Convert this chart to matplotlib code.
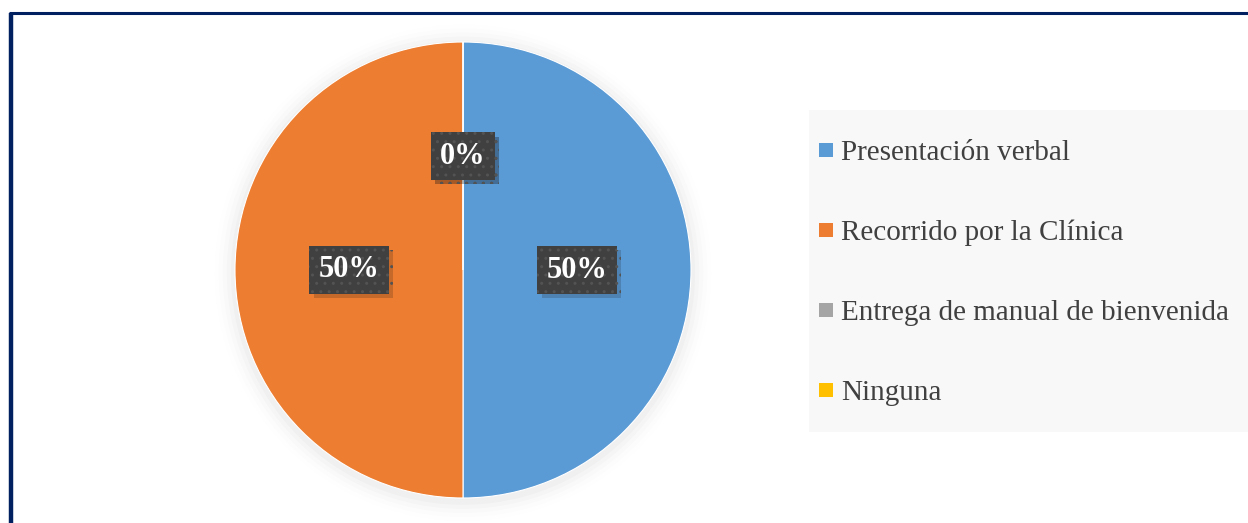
import matplotlib
matplotlib.use("Agg")
import matplotlib.pyplot as plt
from matplotlib.patches import Rectangle, Circle
from matplotlib.lines import Line2D
from matplotlib import patheffects as pe

# Datos
categorias = ["Presentación verbal", "Recorrido por la Clínica",
              "Entrega de manual de bienvenida", "Ninguna"]
valores = [50, 50, 0, 0]
colores = ["#5B9BD5", "#ED7D31", "#A5A5A5", "#FFC000"]

W, H = 1248, 523
fig = plt.figure(figsize=(W / 100, H / 100), dpi=100)
fig.patch.set_facecolor("white")

# marco azul (solo izquierda y arriba)
fig.add_artist(Line2D([11 / W, 11 / W], [0, 1 - 13 / H], color="#002060",
                      lw=3.2, transform=fig.transFigure, solid_capstyle="butt"))
fig.add_artist(Line2D([9 / W, 1], [1 - 13 / H, 1 - 13 / H], color="#002060",
                      lw=2.2, transform=fig.transFigure, solid_capstyle="butt"))

# Gráfico circular
cx, cy, r = 463, 270, 228
ax = fig.add_axes([(cx - r) / W, (H - cy - r) / H, 2 * r / W, 2 * r / H])
ax.axis("off")

# sombra suave alrededor del círculo
for i, a in enumerate([0.02, 0.016, 0.012, 0.008, 0.005]):
    ax.add_patch(Circle((0, -0.012), 1 + 0.018 * (i + 1), color="black",
                        alpha=a, lw=0, zorder=0, clip_on=False))

wedges, textos, autotextos = ax.pie(
    valores, colors=colores, startangle=90, counterclock=False, radius=1,
    autopct="%1.0f%%", pctdistance=0.5,
    wedgeprops=dict(edgecolor="white", linewidth=0.8),
    textprops=dict(color="white", fontsize=22, fontweight="bold",
                   family="Liberation Serif"))
ax.set_xlim(-1, 1)
ax.set_ylim(-1, 1)

for t in autotextos:
    t.set_bbox(dict(boxstyle="square,pad=0.3", facecolor="#404040",
                    edgecolor="#535353", linewidth=0, hatch=".."))
    t.get_bbox_patch().set_path_effects(
        [pe.SimplePatchShadow(offset=(3, -3), alpha=0.18), pe.Normal()])

# Leyenda
fig.add_artist(Rectangle((809 / W, 1 - 432 / H), 1 - 809 / W, 322 / H,
                         transform=fig.transFigure, facecolor="#F8F8F8",
                         edgecolor="none"))
for i, (nombre, color) in enumerate(zip(categorias, colores)):
    y = 150 + 80 * i
    fig.add_artist(Rectangle((819 / W, 1 - (y + 7) / H), 14 / W, 14 / H,
                             transform=fig.transFigure, facecolor=color,
                             edgecolor="none"))
    fig.text(841 / W, 1 - (y + 10) / H, nombre, fontsize=21, color="#404040",
             family="Liberation Serif", va="baseline", ha="left")

fig.savefig("out.png", dpi=100)
